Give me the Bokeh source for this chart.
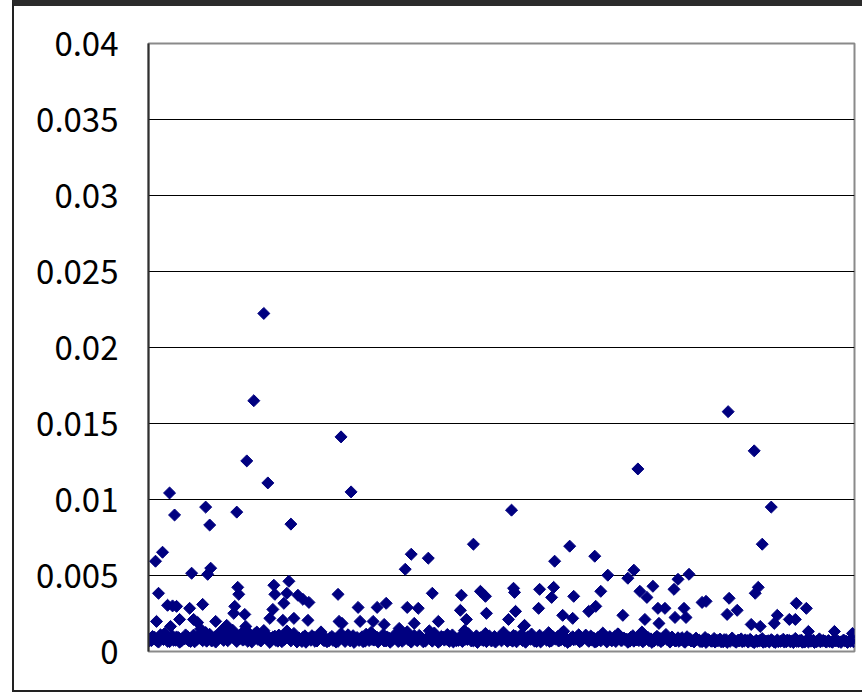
import math
from bokeh.plotting import figure
from bokeh.models import Range1d, FixedTicker
from bokeh.embed import file_html
from bokeh.resources import INLINE

# ---- data ----
tick_values = [0, 0.005, 0.01, 0.015, 0.02, 0.025, 0.03, 0.035, 0.04]
tick_labels = ["0", "0.005", "0.01", "0.015", "0.02", "0.025", "0.03", "0.035", "0.04"]
grid_values = [0.005, 0.01, 0.015, 0.02, 0.025, 0.03, 0.035]

# scattered (higher) observations: observation number and value
high_obs = [7, 14, 21, 26, 10, 19, 24, 28, 41, 43, 54, 57, 61, 62, 59, 88, 89, 90, 86, 85,
            96, 98, 105, 115, 119, 125, 126, 140, 138, 135, 124, 121, 134, 142, 145, 149, 154,
            160, 159, 8, 22, 31, 45, 49, 67, 78, 97, 189, 190, 192, 202,
            362, 324, 262, 279, 256, 209, 228, 237, 258, 269, 283, 312, 311, 331, 336, 337,
            364, 365, 366, 359, 193, 211, 224, 235, 250, 265, 289, 317, 374,
            488, 420, 405, 445, 458, 484, 478, 539, 528, 390, 404, 402, 424, 451, 490, 497,
            503, 524, 389, 439, 446, 413, 423, 473, 495, 508, 515, 525, 534, 536, 509, 375, 552,
            578, 604, 621, 612, 608, 605, 556, 579, 577, 587, 646, 656, 627, 639, 645, 601,
            610, 624, 658, 684, 702]
high_val = [0.00594, 0.00653, 0.01043, 0.00898, 0.00383, 0.00304, 0.00300, 0.00297, 0.00284,
            0.00515, 0.00310, 0.00950, 0.00832, 0.00548, 0.00508, 0.00917, 0.00422, 0.00376,
            0.00297, 0.00251, 0.00244, 0.01254, 0.01650, 0.02224, 0.01109, 0.00436, 0.00376,
            0.00462, 0.00383, 0.00317, 0.00277, 0.00218, 0.00205, 0.00838, 0.00218, 0.00370,
            0.00343, 0.00323, 0.00205, 0.00198, 0.00165, 0.00211, 0.00211, 0.00191, 0.00198,
            0.00172, 0.00165, 0.00376, 0.00198, 0.01412, 0.01050,
            0.00930, 0.00706, 0.00640, 0.00614, 0.00541, 0.00290, 0.00290, 0.00317, 0.00290,
            0.00284, 0.00383, 0.00370, 0.00271, 0.00396, 0.00363, 0.00251, 0.00416, 0.00389,
            0.00264, 0.00211, 0.00185, 0.00198, 0.00198, 0.00178, 0.00152, 0.00185, 0.00198,
            0.00211, 0.00165,
            0.01201, 0.00693, 0.00594, 0.00627, 0.00502, 0.00535, 0.00482, 0.00508, 0.00475,
            0.00409, 0.00422, 0.00356, 0.00363, 0.00396, 0.00396, 0.00356, 0.00429, 0.00409,
            0.00284, 0.00264, 0.00297, 0.00238, 0.00218, 0.00238, 0.00211, 0.00284, 0.00284,
            0.00224, 0.00284, 0.00224, 0.00185, 0.00172, 0.00323,
            0.01578, 0.01320, 0.00950, 0.00706, 0.00422, 0.00383, 0.00330, 0.00350, 0.00244,
            0.00271, 0.00317, 0.00284, 0.00238, 0.00211, 0.00211, 0.00178, 0.00165, 0.00185,
            0.00132, 0.00132, 0.00119]

# dense low band, first layer (observations 0, 3, 6, ...)
low_val = [
    0.00085, 0.00072, 0.00094, 0.00068, 0.00110, 0.00079, 0.00088, 0.00065, 0.00102, 0.00074,
    0.00091, 0.00070, 0.00083, 0.00097, 0.00066, 0.00108, 0.00077, 0.00089, 0.00071, 0.00125,
    0.00084, 0.00069, 0.00095, 0.00080, 0.00132, 0.00073, 0.00117, 0.00086, 0.00140, 0.00075,
    0.00098, 0.00121, 0.00082, 0.00067, 0.00105, 0.00090, 0.00128, 0.00076, 0.00093, 0.00115,
    0.00070, 0.00087, 0.00101, 0.00068, 0.00092, 0.00078, 0.00135, 0.00084, 0.00096, 0.00072,
    0.00089, 0.00066, 0.00103, 0.00081, 0.00074, 0.00094, 0.00069, 0.00111, 0.00079, 0.00086,
    0.00071, 0.00099, 0.00083, 0.00067, 0.00118, 0.00076, 0.00091, 0.00070, 0.00104, 0.00085,
    0.00073, 0.00097, 0.00068, 0.00088, 0.00126, 0.00075, 0.00093, 0.00080, 0.00112, 0.00069,
    0.00087, 0.00074, 0.00100, 0.00066, 0.00095, 0.00082, 0.00130, 0.00071, 0.00090, 0.00078,
    0.00106, 0.00084, 0.00068, 0.00098, 0.00076, 0.00122, 0.00089, 0.00072, 0.00094, 0.00081,
    0.00067, 0.00109, 0.00086, 0.00073, 0.00096, 0.00138, 0.00079, 0.00091, 0.00070, 0.00103,
    0.00085, 0.00075, 0.00119, 0.00088, 0.00069, 0.00099, 0.00077, 0.00092, 0.00127, 0.00074,
    0.00090, 0.00068, 0.00101, 0.00083, 0.00114, 0.00072, 0.00095, 0.00080, 0.00087, 0.00066,
    0.00107, 0.00078, 0.00093, 0.00124, 0.00071, 0.00086, 0.00098, 0.00075, 0.00133, 0.00084,
    0.00069, 0.00097, 0.00082, 0.00110, 0.00073, 0.00091, 0.00076, 0.00102, 0.00088, 0.00067,
    0.00094, 0.00121, 0.00079, 0.00085, 0.00070, 0.00099, 0.00116, 0.00074, 0.00089, 0.00081,
    0.00068, 0.00104, 0.00087, 0.00072, 0.00128, 0.00077, 0.00093, 0.00083, 0.00069, 0.00100,
    0.00086, 0.00075, 0.00112, 0.00080, 0.00095, 0.00070, 0.00090, 0.00078, 0.00066, 0.00097,
    0.00084, 0.00071, 0.00088, 0.00076, 0.00065, 0.00092, 0.00079, 0.00068, 0.00086, 0.00073,
    0.00082, 0.00064, 0.00078, 0.00070, 0.00089, 0.00066, 0.00075, 0.00083, 0.00068, 0.00072,
    0.00080, 0.00063, 0.00074, 0.00069, 0.00085, 0.00065, 0.00071, 0.00078, 0.00062, 0.00076,
    0.00067, 0.00081, 0.00064, 0.00073, 0.00070, 0.00086, 0.00066, 0.00075, 0.00062, 0.00079,
    0.00068, 0.00074, 0.00065, 0.00083, 0.00070, 0.00066, 0.00072, 0.00064, 0.00078, 0.00069,
    0.00063, 0.00075, 0.00067, 0.00071, 0.00080,
]
# dense low band, second layer (observations 1, 4, 7, ...)
low_val2 = [
    0.00070, 0.00099, 0.00078, 0.00062, 0.00090, 0.00118, 0.00067, 0.00083, 0.00074, 0.00096,
    0.00061, 0.00087, 0.00109, 0.00072, 0.00079, 0.00064, 0.00101, 0.00148, 0.00085, 0.00068,
    0.00113, 0.00077, 0.00062, 0.00105, 0.00089, 0.00155, 0.00071, 0.00098, 0.00123, 0.00066,
    0.00084, 0.00075, 0.00142, 0.00092, 0.00063, 0.00116, 0.00080, 0.00069, 0.00138, 0.00088,
    0.00060, 0.00095, 0.00073, 0.00108, 0.00065, 0.00082, 0.00097, 0.00070, 0.00119, 0.00063,
    0.00078, 0.00093, 0.00061, 0.00086, 0.00104, 0.00067, 0.00076, 0.00129, 0.00071, 0.00064,
    0.00090, 0.00073, 0.00062, 0.00081, 0.00095, 0.00066, 0.00110, 0.00078, 0.00060, 0.00092,
    0.00084, 0.00065, 0.00114, 0.00072, 0.00079, 0.00101, 0.00063, 0.00087, 0.00069, 0.00096,
    0.00061, 0.00083, 0.00120, 0.00074, 0.00067, 0.00089, 0.00077, 0.00062, 0.00105, 0.00070,
    0.00093, 0.00064, 0.00080, 0.00136, 0.00068, 0.00086, 0.00061, 0.00099, 0.00075, 0.00112,
    0.00085, 0.00063, 0.00071, 0.00094, 0.00066, 0.00082, 0.00117, 0.00069, 0.00078, 0.00060,
    0.00091, 0.00073, 0.00065, 0.00102, 0.00080, 0.00062, 0.00088, 0.00070, 0.00097, 0.00067,
    0.00076, 0.00106, 0.00064, 0.00084, 0.00072, 0.00061, 0.00093, 0.00115, 0.00068, 0.00079,
    0.00063, 0.00090, 0.00074, 0.00066, 0.00100, 0.00082, 0.00069, 0.00121, 0.00071, 0.00060,
    0.00087, 0.00077, 0.00095, 0.00064, 0.00083, 0.00108, 0.00067, 0.00075, 0.00062, 0.00092,
    0.00070, 0.00085, 0.00063, 0.00098, 0.00078, 0.00066, 0.00111, 0.00072, 0.00081, 0.00061,
    0.00094, 0.00068, 0.00076, 0.00103, 0.00064, 0.00086, 0.00071, 0.00060, 0.00089, 0.00074,
    0.00065, 0.00096, 0.00079, 0.00062, 0.00083, 0.00070, 0.00067, 0.00091, 0.00061, 0.00077,
    0.00069, 0.00063, 0.00080, 0.00066, 0.00072, 0.00060, 0.00075, 0.00068, 0.00062, 0.00071,
    0.00064, 0.00078, 0.00060, 0.00067, 0.00073, 0.00061, 0.00069, 0.00065, 0.00076, 0.00062,
    0.00070, 0.00059, 0.00066, 0.00074, 0.00061, 0.00068, 0.00063, 0.00072, 0.00060, 0.00065,
    0.00069, 0.00062, 0.00075, 0.00064, 0.00059, 0.00067, 0.00071, 0.00061, 0.00066, 0.00063,
    0.00070, 0.00060, 0.00068, 0.00064, 0.00073, 0.00062, 0.00066, 0.00061, 0.00069, 0.00065,
    0.00063, 0.00071, 0.00060, 0.00067, 0.00064,
]
low_obs = [3 * i for i in range(len(low_val))]
low_obs2 = [3 * i + 1 for i in range(len(low_val2))]

# ---- figure ----
FONT = "Noto Sans CJK JP"
NAVY = "#000080"

p = figure(width=850, height=692, output_backend="svg", toolbar_location=None,
           x_range=Range1d(0, 704), y_range=Range1d(0, 0.04),
           min_border_left=134, min_border_right=10, min_border_top=37, min_border_bottom=47)
p.styles = {"margin-left": "12px",
            "border-top": "6px solid #2b2b2b",
            "border-left": "2px solid #222222",
            "border-bottom": "2px solid #222222"}

p.xaxis.visible = False
p.xgrid.visible = False

p.yaxis.ticker = FixedTicker(ticks=tick_values)
p.yaxis.major_label_overrides = {v: l for v, l in zip(tick_values, tick_labels)}
p.yaxis.major_label_text_font = FONT
p.yaxis.major_label_text_font_size = "33px"
p.yaxis.major_label_text_color = "#000000"
p.yaxis.major_label_standoff = 30
p.yaxis.major_tick_out = 0
p.yaxis.major_tick_in = 0
p.yaxis.minor_tick_out = 0
p.yaxis.minor_tick_in = 0
p.yaxis.axis_line_color = "#303030"
p.yaxis.axis_line_width = 2

p.ygrid.ticker = FixedTicker(ticks=grid_values)
p.ygrid.grid_line_color = "#000000"
p.ygrid.grid_line_width = 1

p.outline_line_color = "#8a8a8a"
p.outline_line_width = 2
p.background_fill_color = "white"
p.border_fill_color = "white"

p.scatter(low_obs, low_val, marker="square", angle=math.pi / 4, size=8.5,
          fill_color=NAVY, line_color=NAVY)
p.scatter(low_obs2, low_val2, marker="square", angle=math.pi / 4, size=8.5,
          fill_color=NAVY, line_color=NAVY)
p.scatter(high_obs, high_val, marker="square", angle=math.pi / 4, size=8.5,
          fill_color=NAVY, line_color=NAVY)

open("out.html", "w").write(file_html(p, INLINE))
